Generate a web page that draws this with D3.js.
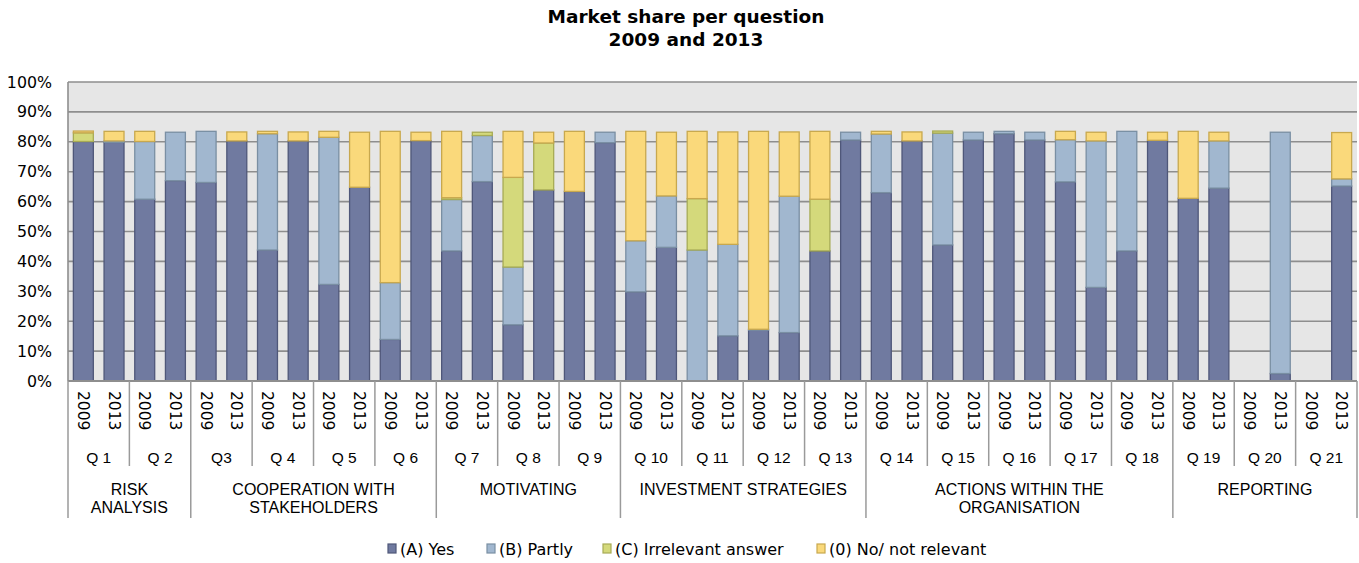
<!DOCTYPE html>
<html><head><meta charset="utf-8">
<script src="https://cdn.jsdelivr.net/npm/d3@7"></script>
<style>body{margin:0;background:#fff}svg{display:block}</style>
</head><body>
<svg id="c" width="1359" height="563"></svg>
<script>
const questions = ["Q 1","Q 2","Q3","Q 4","Q 5","Q 6","Q 7","Q 8","Q 9","Q 10","Q 11","Q 12","Q 13","Q 14","Q 15","Q 16","Q 17","Q 18","Q 19","Q 20","Q 21"];
const years = ["2009","2013"];
const groups = [
  {name:["RISK","ANALYSIS"], from:0, to:1},
  {name:["COOPERATION WITH","STAKEHOLDERS"], from:2, to:5},
  {name:["MOTIVATING"], from:6, to:8},
  {name:["INVESTMENT STRATEGIES"], from:9, to:12},
  {name:["ACTIONS WITHIN THE","ORGANISATION"], from:13, to:17},
  {name:["REPORTING"], from:18, to:20}
];
const seriesNames = ["(A) Yes","(B) Partly","(C) Irrelevant answer","(0) No/ not relevant"];
// values per bar: Q1-2009, Q1-2013, Q2-2009, ...
const yesVals     = [80.1,79.8,60.8,67.0,66.4,80.3,43.8,80.3,32.3,64.8,13.9,80.4,43.5,66.7,18.8,63.9,63.4,79.7,29.8,44.7,0,15.1,17.0,16.2,43.5,80.6,63.0,80.3,45.5,80.6,82.7,80.6,66.6,31.3,43.5,80.5,61.1,64.5,0,2.5,0,65.2];
const partlyVals  = [0,0.5,19.3,16.2,17.1,0,38.9,0,49.2,0,19.0,0,17.2,15.4,19.3,0,0,3.5,17.1,17.2,43.8,30.6,0.3,45.6,0,2.6,19.6,0,37.4,2.6,0.8,2.6,14.1,49.0,40.0,0,0,15.8,0,80.7,0,2.4];
const irrelVals   = [2.9,0,0,0,0,0,0,0,0,0,0,0,0.6,1.1,30.0,15.7,0,0,0,0,17.2,0,0,0,17.3,0,0,0,0.7,0,0,0,0,0,0,0,0,0,0,0,0,0];
const noVals      = [0.6,3.2,3.4,0,0,3.0,0.8,3.0,2.0,18.4,50.6,2.8,22.2,0,15.4,3.6,20.1,0,36.6,21.3,22.5,37.6,66.2,21.5,22.7,0,0.9,3.0,0,0,0,0,2.8,2.9,0,2.7,22.4,2.9,0,0,0,15.5];
const yTicks = [0,10,20,30,40,50,60,70,80,90,100];

const fills   = ["#707aa0","#a1b7cf","#d4d97b","#fad97b"];
const strokes = ["#4f5779","#7a8fa3","#a7ab55","#c8a84e"];

const bars = [];
questions.forEach((q,i)=>years.forEach((y,j)=>{
  const k = i*2+j;
  bars.push({key:q+"|"+y, q, year:y, v:[yesVals[k],partlyVals[k],irrelVals[k],noVals[k]]});
}));

const svg = d3.select("#c");
const L=68, R=1357, T=82, B=381;
const x = d3.scaleBand().domain(bars.map(d=>d.key)).range([L,R]).paddingInner(0.35).paddingOuter(0.175);
const y = d3.scaleLinear().domain([0,100]).range([B,T]);
const qScale = d3.scaleBand().domain(questions).range([L,R]);

// title
svg.append("text").attr("x",686).attr("y",23).attr("text-anchor","middle")
  .style("font-family","DejaVu Sans").style("font-weight","bold").style("font-size","18.5px").text("Market share per question");
svg.append("text").attr("x",686).attr("y",46).attr("text-anchor","middle")
  .style("font-family","DejaVu Sans").style("font-weight","bold").style("font-size","18.5px").text("2009 and 2013");

// plot bg
svg.append("rect").attr("x",L).attr("y",T).attr("width",R-L).attr("height",B-T).attr("fill","#e6e6e6");
// gridlines
svg.append("g").selectAll("line").data(yTicks.filter(t=>t>0)).join("line")
  .attr("x1",L).attr("x2",R).attr("y1",d=>y(d)).attr("y2",d=>y(d))
  .attr("stroke","#8e8e8e").attr("stroke-width",1.6);
// left border
svg.append("line").attr("x1",L).attr("x2",L).attr("y1",T).attr("y2",B).attr("stroke","#8e8e8e").attr("stroke-width",1.6);

// y axis labels
const yAxis = d3.axisLeft(y).tickValues(yTicks).tickFormat(d=>d+"%").tickSize(0).tickPadding(16);
const ya = svg.append("g").attr("transform",`translate(${L},0)`).call(yAxis);
ya.select(".domain").remove();
ya.selectAll("text").style("font-family","DejaVu Sans").style("font-size","15.8px").attr("fill","#000");

// stacked bars
const stack = d3.stack().keys([0,1,2,3]).value((d,k)=>d.v[k]);
const stacked = stack(bars);
stacked.forEach((layer,si)=>{
  svg.append("g").selectAll("rect").data(layer.filter(s=>s[1]-s[0]>0)).join("rect")
    .attr("x",d=>x(d.data.key)).attr("width",x.bandwidth())
    .attr("y",d=>y(d[1])).attr("height",d=>y(d[0])-y(d[1]))
    .attr("fill",fills[si]).attr("stroke",strokes[si]).attr("stroke-width",1.3);
});

// bottom axis line
svg.append("line").attr("x1",L).attr("x2",R).attr("y1",B).attr("y2",B).attr("stroke","#8e8e8e").attr("stroke-width",2);

// category axis separators
const sepColor="#9a9a9a";
const groupEdges = new Set();
groups.forEach(g=>{groupEdges.add(g.from); groupEdges.add(g.to+1);});
for(let i=0;i<=questions.length;i++){
  const xx = i<questions.length ? qScale(questions[i]) : R;
  svg.append("line").attr("x1",xx).attr("x2",xx).attr("y1",B).attr("y2",groupEdges.has(i)?518:466)
    .attr("stroke",sepColor).attr("stroke-width",1.5);
}
// year labels
svg.append("g").selectAll("text").data(bars).join("text")
  .attr("transform",d=>`translate(${x(d.key)+x.bandwidth()/2},391) rotate(90)`)
  .attr("dy","0.35em")
  .style("font-family","DejaVu Sans").style("font-size","15.5px").text(d=>d.year);
// question labels
svg.append("g").selectAll("text").data(questions).join("text")
  .attr("x",d=>qScale(d)+qScale.bandwidth()/2).attr("y",463).attr("text-anchor","middle")
  .style("font-family","Liberation Sans").style("font-size","15.5px").text(d=>d);
// group labels
groups.forEach(g=>{
  const cx = (qScale(questions[g.from]) + qScale(questions[g.to]) + qScale.bandwidth())/2;
  g.name.forEach((line,li)=>{
    svg.append("text").attr("x",cx).attr("y",495+li*18).attr("text-anchor","middle")
      .style("font-family","Liberation Sans").style("font-size","16px").text(line);
  });
});

// legend
const legendX = [388, 487, 603, 817];
const lg = svg.append("g");
seriesNames.forEach((n,i)=>{
  lg.append("rect").attr("x",legendX[i]).attr("y",544).attr("width",8).attr("height",9)
    .attr("fill",fills[i]).attr("stroke",strokes[i]).attr("stroke-width",1.2);
  lg.append("text").attr("x",legendX[i]+12).attr("y",554.5)
    .style("font-family","DejaVu Sans").style("font-size","16px").text(n);
});
</script>
</body></html>
